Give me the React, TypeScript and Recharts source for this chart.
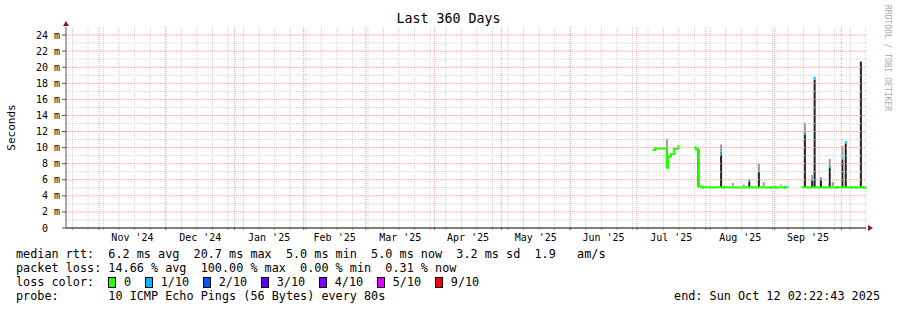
import React from 'react';
import { ComposedChart, Line, Bar, XAxis, YAxis, ReferenceLine, ReferenceDot } from 'recharts';

const FONT = '"DejaVu Sans Mono", monospace';
const START = Date.UTC(2024, 9, 17, 2, 22, 43); // end minus 360 days
const DAY_MS = 86400000;
const SPAN = 360;

// month boundaries (red grid) and their labels
const monthStarts = ['2024-11-01', '2024-12-01', '2025-01-01', '2025-02-01', '2025-03-01', '2025-04-01',
  '2025-05-01', '2025-06-01', '2025-07-01', '2025-08-01', '2025-09-01', '2025-10-01'];
const monthLabels = ["Nov '24", "Dec '24", "Jan '25", "Feb '25", "Mar '25", "Apr '25", "May '25", "Jun '25",
  "Jul '25", "Aug '25", "Sep '25"];
const firstSunday = '2024-10-20';

const yMajor = [0, 2, 4, 6, 8, 10, 12, 14, 16, 18, 20, 22, 24];
const yMinor = [1, 3, 5, 7, 9, 11, 13, 15, 17, 19, 21, 23];

// median rtt in ms, [day since start, ms]; null = no data
const trace: [number, number | null][] = [
  [263.9, 9.7], [265.0, 9.9], [266.3, 9.9], [267.7, 9.9], [269.2, 9.9], [270.4, 7.5], [271.0, 8.9],
  [272.3, 9.2], [273.7, 9.85], [274.9, 9.85], [275.6, 10.3], [276.6, null],
  [282.5, 10.0], [283.5, 9.8], [284.6, 5.15], [285.7, 5.08], [286.7, 5.06], [289.7, 5.05], [292.4, 5.06],
  [294.8, 5.06], [296.0, 5.06], [298.7, 5.05], [300.1, 5.05], [302.3, 5.05], [305.0, 5.06], [307.5, 5.05],
  [309.5, 5.05], [311.8, 5.06], [314.0, 5.05], [315.4, 5.05], [317.2, 5.06], [319.4, 5.05], [321.7, 5.05],
  [323.5, 5.06], [324.8, 5.05], [326.0, null],
  [331.1, 5.06], [332.5, 5.06], [333.9, 5.05], [335.8, 5.05], [336.9, 5.06], [338.3, 5.05], [339.7, 5.05],
  [341.5, 5.05], [343.7, 5.06], [345.1, 5.05], [346.9, 5.06], [349.4, 5.05], [350.9, 5.06], [352.2, 5.05],
  [353.6, 5.06], [355.4, 5.05], [357.7, 5.06], [358.8, 5.05], [359.9, 5.06],
];

// [day, top ms, smoke top ms, loss 1/10 at top]
const spikes: [number, number, number | null, boolean][] = [
  [270.4, 9.9, 11.1, false],
  [284.6, 9.8, null, false],
  [294.8, 9.5, 10.4, true],
  [307.5, 6.1, null, true],
  [311.8, 7.3, 8.0, true],
  [332.5, 12.0, 13.1, true],
  [335.8, 6.2, 6.6, true],
  [336.9, 18.8, null, true],
  [339.7, 6.3, null, true],
  [343.7, 7.8, 8.6, true],
  [349.4, 8.8, 10.2, true],
  [350.9, 10.8, null, true],
  [357.7, 20.7, null, false],
];

// days where the median is drawn in the 1/10 loss colour
const lossMarks = [265.0, 271.0, 273.7, 283.5, 286.7, 296.0, 317.2, 319.4, 323.5, 346.9, 353.6, 355.4, 358.8];

// [day, smoke top ms] small smoke above the median
const smokeBumps: [number, number][] = [[300.1, 5.6], [305.0, 5.4], [314.0, 5.7], [321.7, 5.4], [345.1, 5.7]];

const lossColors: [string, string][] = [
  ['0', '#26ff00'], ['1/10', '#00b8ff'], ['2/10', '#0059ff'], ['3/10', '#5e00ff'],
  ['4/10', '#7e00ff'], ['5/10', '#dd00ff'], ['9/10', '#ff0000'],
];

const dayOf = (iso: string) => (Date.parse(iso + 'T00:00:00Z') - START) / DAY_MS;
const monthLines = monthStarts.map(dayOf);
const monthTicks = monthLabels.map((_, i) => (monthLines[i] + monthLines[i + 1]) / 2);
const weekLines: number[] = [];
for (let d = dayOf(firstSunday); d < SPAN; d += 7) weekLines.push(d);

const data = trace.map(([day, median]) => {
  const row = { day, median, base: 0, black: 0, blue: 0, smoke: 0 };
  if (median === null) return row;
  const sp = spikes.find((s) => s[0] === day);
  const bump = smokeBumps.find((s) => s[0] === day);
  if (sp) {
    const cap = sp[3] ? 0.35 : 0;
    row.base = median;
    row.black = sp[1] - median - cap;
    row.blue = cap;
    row.smoke = sp[2] ? sp[2] - sp[1] : 0;
  } else if (lossMarks.includes(day)) {
    row.base = median - 0.15;
    row.blue = 0.3;
  } else if (bump) {
    row.base = median + 0.15;
    row.smoke = bump[1] - median - 0.15;
  }
  return row;
});

// rrdtool draws one-pixel-ish columns; keep them 2px wide whatever the band size is
const Column = (p: any) =>
  p.height > 0 ? <rect x={p.x + p.width / 2 - 1} y={p.y} width={2} height={p.height} fill={p.fill} fillOpacity={p.fillOpacity} /> : null;

const YTick = ({ x, y, payload }: any) => (
  <text x={payload.value === 0 ? x - 12 : x} y={y} dy={3.5} textAnchor="end" fontSize={10} fontFamily={FONT} fill="#000">
    {payload.value === 0 ? '0' : `${payload.value} m`}
  </text>
);

const arrowRight = (p: any) => (
  <polygon points={`${p.cx + 2},${p.cy - 3} ${p.cx + 7},${p.cy} ${p.cx + 2},${p.cy + 3}`} fill="#8b1a1a" />
);
const arrowUp = (p: any) => (
  <polygon points={`${p.cx - 3},${p.cy - 1} ${p.cx},${p.cy - 6} ${p.cx + 3},${p.cy - 1}`} fill="#8b1a1a" />
);

const row: React.CSSProperties = {
  position: 'absolute', left: 16, fontFamily: FONT, fontSize: 11.8, lineHeight: '14px', whiteSpace: 'pre', color: '#000',
};

export default function App() {
  return (
    <div style={{ position: 'absolute', left: 0, top: 0, width: 897, height: 310, background: '#fff', overflow: 'hidden' }}>
      <ComposedChart width={897} height={310} data={data} margin={{ top: 27, right: 31, bottom: 62, left: 0 }}
        style={{ position: 'absolute', left: 0, top: 0 }}>
        {weekLines.map((d) => (
          <ReferenceLine key={'w' + d} x={d} stroke="#cfcfcf" strokeDasharray="1 1" />
        ))}
        {yMinor.map((v) => (
          <ReferenceLine key={'m' + v} y={v} stroke="#cfcfcf" strokeDasharray="1 1" />
        ))}
        {monthLines.map((d) => (
          <ReferenceLine key={'M' + d} x={d} stroke="#f2a0a0" strokeDasharray="1 1" />
        ))}
        {yMajor.filter((v) => v > 0).map((v) => (
          <ReferenceLine key={'Y' + v} y={v} stroke="#f2a0a0" strokeDasharray="1 1" />
        ))}
        {weekLines.map((d) => (
          <ReferenceLine key={'wt' + d} segment={[{ x: d, y: 0 }, { x: d, y: -0.3 }]} ifOverflow="visible" stroke="#bbb" />
        ))}
        {monthLines.map((d) => (
          <ReferenceLine key={'Mt' + d} segment={[{ x: d, y: 0 }, { x: d, y: -0.3 }]} ifOverflow="visible" stroke="#e07070" />
        ))}
        <XAxis dataKey="day" type="number" domain={[0, SPAN]} ticks={monthTicks} interval={0}
          tickFormatter={(v: number) => monthLabels[monthTicks.indexOf(v)]} tickLine={false} tickSize={4}
          axisLine={{ stroke: '#000' }} height={20} tick={{ fontSize: 10, fill: '#000', fontFamily: FONT }} />
        <YAxis type="number" domain={[0, 25]} ticks={yMajor} interval={0} width={66} tickSize={4} tickMargin={2}
          axisLine={{ stroke: '#555' }} tickLine={{ stroke: '#555' }} tick={<YTick />}
          label={{
            value: 'Seconds',
            content: ({ viewBox }: any) => (
              <text transform={`translate(${viewBox.x + 11}, ${viewBox.y + viewBox.height / 2}) rotate(-90)`}
                textAnchor="middle" dominantBaseline="central" fontSize={11} fontFamily={FONT} fill="#000">Seconds</text>
            ),
          }} />
        <Line type="stepAfter" dataKey="median" stroke="#26ff00" strokeWidth={2} dot={false} connectNulls={false}
          isAnimationActive={false} />
        <Bar dataKey="base" stackId="s" fill="#fff" fillOpacity={0} shape={Column} isAnimationActive={false} />
        <Bar dataKey="black" stackId="s" fill="#202020" shape={Column} isAnimationActive={false} />
        <Bar dataKey="blue" stackId="s" fill="#00b8ff" shape={Column} isAnimationActive={false} />
        <Bar dataKey="smoke" stackId="s" fill="#9a9a9a" shape={Column} isAnimationActive={false} />
        <ReferenceDot x={SPAN} y={0} r={0} ifOverflow="visible" shape={arrowRight} />
        <ReferenceDot x={0} y={25} r={0} ifOverflow="visible" shape={arrowUp} />
      </ComposedChart>

      <div style={{ position: 'absolute', left: 0, top: 11, width: 897, textAlign: 'center', fontFamily: FONT, fontSize: 13.3, lineHeight: '16px', color: '#000' }}>
        Last 360 Days
      </div>
      <div style={{ position: 'absolute', left: 882, top: 5, writingMode: 'vertical-rl', fontFamily: FONT, fontSize: 8, color: '#aaa', lineHeight: '10px' }}>
        RRDTOOL / TOBI OETIKER
      </div>

      <div style={{ ...row, top: 247 }}>{'median rtt:  6.2 ms avg  20.7 ms max  5.0 ms min  5.0 ms now  3.2 ms sd  1.9   am/s'}</div>
      <div style={{ ...row, top: 261 }}>{'packet loss: 14.66 % avg  100.00 % max  0.00 % min  0.31 % now'}</div>
      <div style={{ ...row, top: 275, display: 'flex', alignItems: 'center' }}>
        <span style={{ width: 92 }}>{'loss color:'}</span>
        {lossColors.map(([label, color]) => (
          <span key={label} style={{ display: 'flex', alignItems: 'center', marginRight: 13.6 }}>
            <span style={{ display: 'inline-block', width: 6, height: 9, background: color, border: '1px solid #000' }} />
            <span style={{ marginLeft: 8 }}>{label}</span>
          </span>
        ))}
      </div>
      <div style={{ ...row, top: 289 }}>{'probe:       10 ICMP Echo Pings (56 Bytes) every 80s'}</div>
      <div style={{ ...row, top: 289, left: 'auto', right: 17 }}>{'end: Sun Oct 12 02:22:43 2025'}</div>
    </div>
  );
}
